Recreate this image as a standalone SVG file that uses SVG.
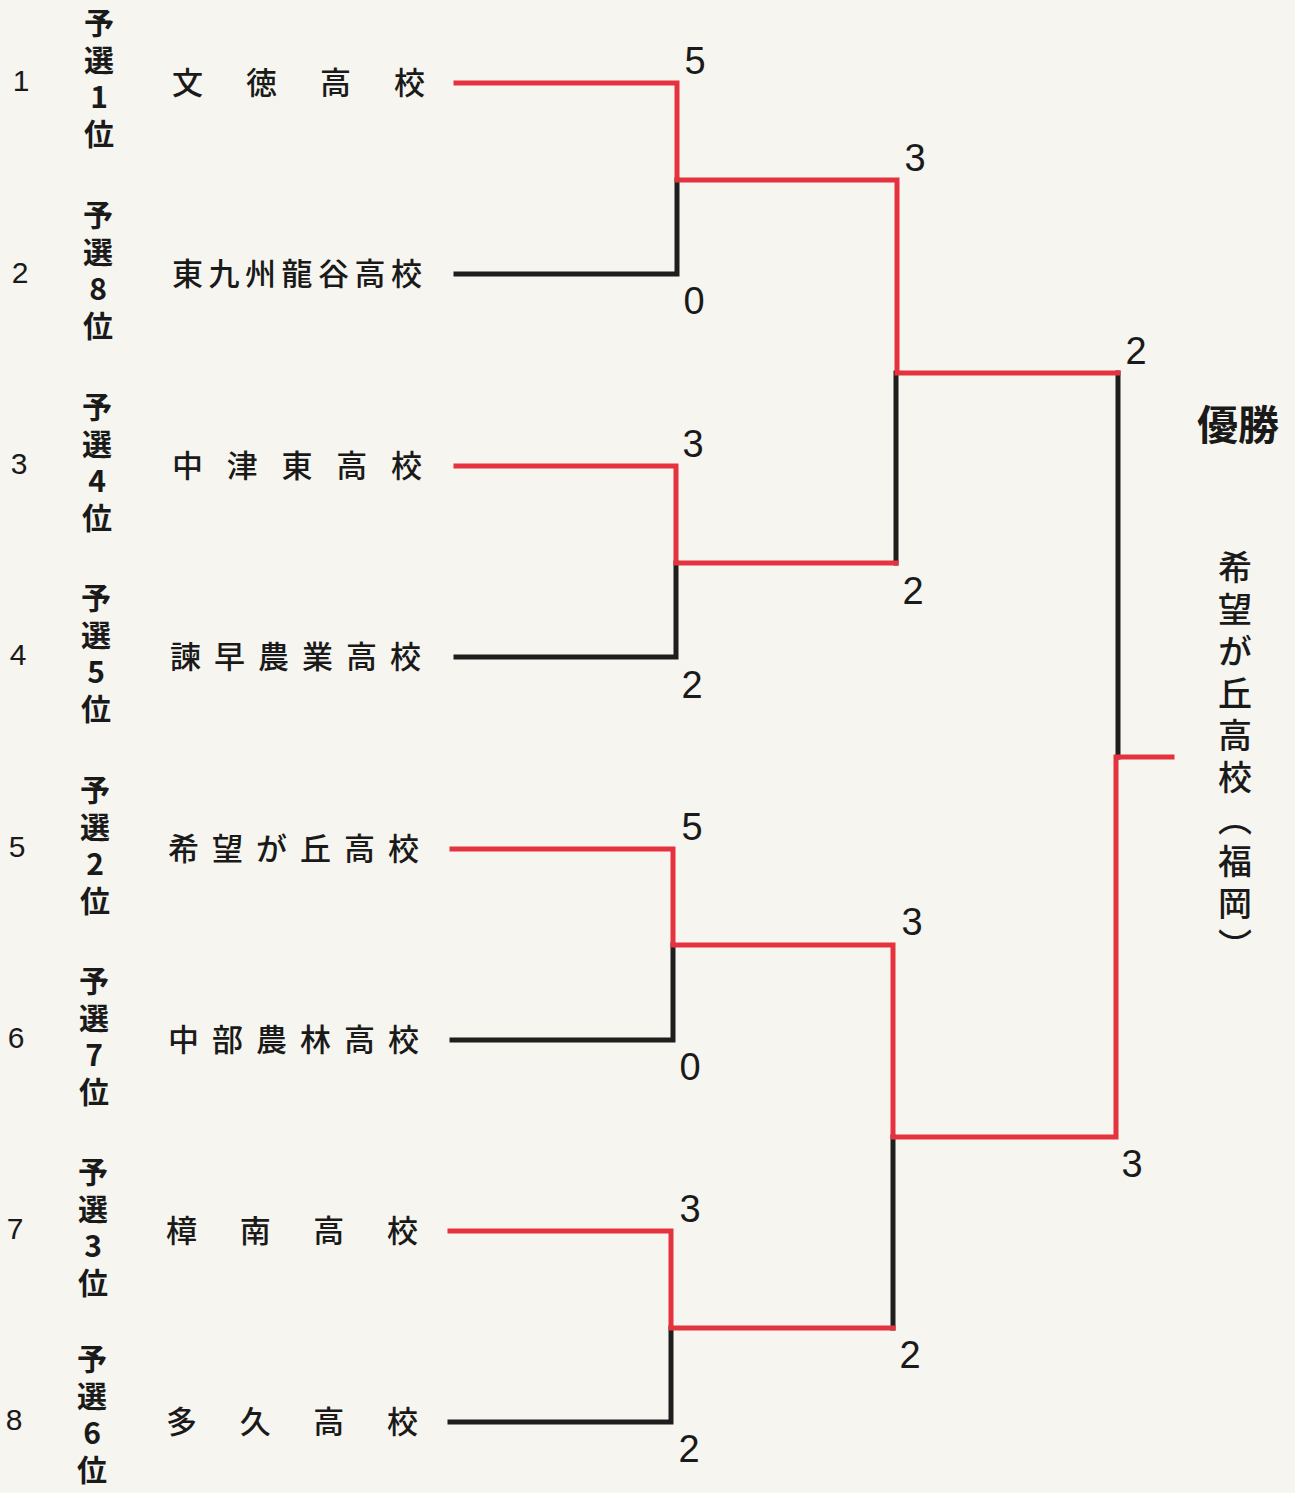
<svg xmlns="http://www.w3.org/2000/svg" width="1295" height="1493" viewBox="0 0 1295 1493">
<style>
.bg{fill:#f6f5ef}
.r{fill:none;stroke:#e5323f;stroke-width:5;stroke-linejoin:miter;stroke-linecap:square}
.k{fill:none;stroke:#1e1e1e;stroke-width:5;stroke-linejoin:miter;stroke-linecap:square}
.num{font-family:"Liberation Sans","Noto Sans",sans-serif;font-size:30px;fill:#1a1a1a;text-anchor:middle}
.seed{font-family:"Noto Sans CJK JP","Noto Sans",sans-serif;font-size:30px;font-weight:bold;fill:#1a1a1a;writing-mode:vertical-rl;text-orientation:upright;letter-spacing:7px}
.team{font-family:"Noto Sans CJK JP",sans-serif;font-size:31px;font-weight:500;fill:#1a1a1a}
.score{font-family:"Liberation Sans","Noto Sans",sans-serif;font-size:38px;fill:#1a1a1a;text-anchor:middle}
.win{font-family:"Noto Sans CJK JP",sans-serif;font-size:41px;font-weight:bold;fill:#1a1a1a;text-anchor:middle}
.champ{font-family:"Noto Sans CJK JP",sans-serif;font-size:34px;font-weight:500;fill:#1a1a1a;writing-mode:vertical-rl;letter-spacing:8px}
</style>
<rect class="bg" x="0" y="0" width="1295" height="1493"/>

<g id="entry1">
<text class="num" x="21" y="91">1</text>
<text class="seed" x="99" y="8">予選1位</text>
<text class="team" x="172" y="94" textLength="253" lengthAdjust="spacing">文徳高校</text>
</g>
<g id="entry2">
<text class="num" x="20" y="283">2</text>
<text class="seed" x="98" y="200">予選8位</text>
<text class="team" x="172" y="285" textLength="250" lengthAdjust="spacing">東九州龍谷高校</text>
</g>
<g id="entry3">
<text class="num" x="19" y="474">3</text>
<text class="seed" x="97" y="392">予選4位</text>
<text class="team" x="172" y="477" textLength="250" lengthAdjust="spacing">中津東高校</text>
</g>
<g id="entry4">
<text class="num" x="18" y="665">4</text>
<text class="seed" x="96" y="583">予選5位</text>
<text class="team" x="170" y="668" textLength="251" lengthAdjust="spacing">諫早農業高校</text>
</g>
<g id="entry5">
<text class="num" x="17" y="857">5</text>
<text class="seed" x="95" y="775">予選2位</text>
<text class="team" x="168" y="860" textLength="251" lengthAdjust="spacing">希望が丘高校</text>
</g>
<g id="entry6">
<text class="num" x="16" y="1048">6</text>
<text class="seed" x="94" y="966">予選7位</text>
<text class="team" x="168" y="1051" textLength="251" lengthAdjust="spacing">中部農林高校</text>
</g>
<g id="entry7">
<text class="num" x="15" y="1239">7</text>
<text class="seed" x="93" y="1157">予選3位</text>
<text class="team" x="166" y="1242" textLength="252" lengthAdjust="spacing">樟南高校</text>
</g>
<g id="entry8">
<text class="num" x="14" y="1430">8</text>
<text class="seed" x="92" y="1344">予選6位</text>
<text class="team" x="166" y="1433" textLength="252" lengthAdjust="spacing">多久高校</text>
</g>

<g id="connectors">
<polyline class="k" points="456,274 677,274 677,180"/>
<polyline class="k" points="456,657 676,657 676,563"/>
<polyline class="k" points="896,563 896,373"/>
<polyline class="k" points="1118,373 1118,757"/>
<polyline class="k" points="452,1040 673,1040 673,945"/>
<polyline class="k" points="450,1422 671,1422 671,1328"/>
<polyline class="k" points="893,1328 893,1137"/>
<polyline class="r" points="456,83 677,83 677,180 897,180 897,373 1118,373"/>
<polyline class="r" points="456,466 676,466 676,563 896,563"/>
<polyline class="r" points="452,849 673,849 673,945 893,945 893,1137 1116,1137 1116,757 1172,757"/>
<polyline class="r" points="450,1231 671,1231 671,1328 893,1328"/>
</g>

<g id="scores">
<text class="score" x="695" y="74">5</text>
<text class="score" x="694" y="314">0</text>
<text class="score" x="915" y="171">3</text>
<text class="score" x="1136" y="364">2</text>
<text class="score" x="693" y="457">3</text>
<text class="score" x="692" y="698">2</text>
<text class="score" x="913" y="604">2</text>
<text class="score" x="692" y="840">5</text>
<text class="score" x="690" y="1080">0</text>
<text class="score" x="912" y="935">3</text>
<text class="score" x="1132" y="1177">3</text>
<text class="score" x="690" y="1222">3</text>
<text class="score" x="689" y="1462">2</text>
<text class="score" x="910" y="1368">2</text>
</g>

<g id="champion">
<text class="win" x="1238" y="440">優勝</text>
<text class="champ" x="1235" y="550">希望が丘高校（福岡）</text>
</g>
</svg>
